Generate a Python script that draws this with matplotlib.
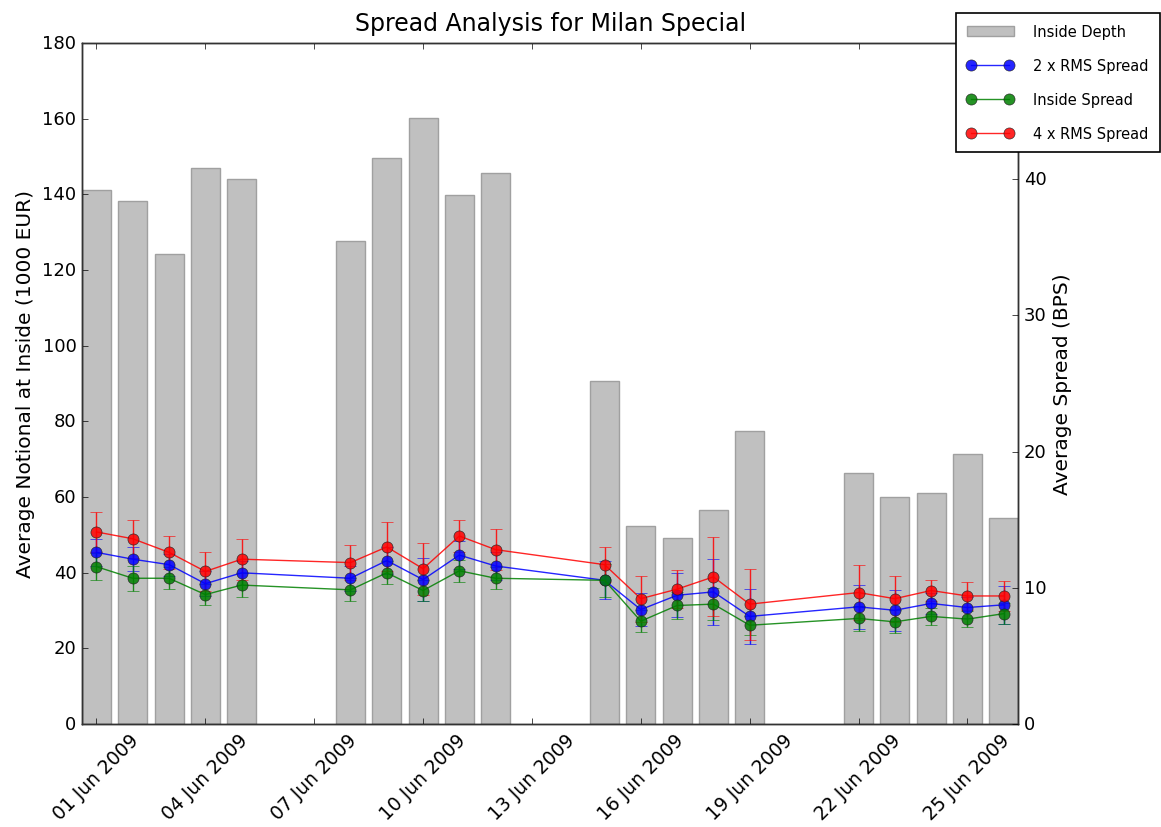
import matplotlib
matplotlib.use("Agg")
import matplotlib.pyplot as plt
import matplotlib.dates as mdates
import pandas as pd

# Datos
fechas = ["2009-06-01", "2009-06-02", "2009-06-03", "2009-06-04", "2009-06-05",
          "2009-06-08", "2009-06-09", "2009-06-10", "2009-06-11", "2009-06-12",
          "2009-06-15", "2009-06-16", "2009-06-17", "2009-06-18", "2009-06-19",
          "2009-06-22", "2009-06-23", "2009-06-24", "2009-06-25", "2009-06-26"]
inside_depth = [141.2, 138.3, 124.2, 147.0, 144.1, 127.7, 149.6, 160.2, 139.8, 145.6,
                90.7, 52.3, 49.2, 56.6, 77.5, 66.4, 60.0, 61.1, 71.4, 54.5]
rms2 = [12.6, 12.1, 11.7, 10.3, 11.1, 10.7, 12.0, 10.6, 12.4, 11.6,
        10.55, 8.4, 9.45, 9.7, 7.9, 8.6, 8.35, 8.85, 8.55, 8.75]
rms2_err = [1.0, 0.9, 0.8, 0.9, 0.9, 0.9, 1.0, 1.6, 1.0, 1.0,
            1.4, 1.2, 1.6, 2.4, 2.0, 1.6, 1.5, 0.8, 0.8, 1.4]
inside = [11.55, 10.7, 10.7, 9.5, 10.2, 9.85, 11.1, 9.8, 11.25, 10.7,
          10.55, 7.55, 8.7, 8.8, 7.25, 7.75, 7.5, 7.9, 7.7, 8.1]
inside_err = [1.0, 0.9, 0.8, 0.8, 0.9, 0.85, 0.85, 0.8, 0.8, 0.8,
              1.2, 0.8, 1.0, 1.2, 0.7, 0.9, 0.85, 0.6, 0.6, 0.75]
rms4 = [14.1, 13.6, 12.6, 11.2, 12.1, 11.85, 13.0, 11.4, 13.8, 12.8,
        11.7, 9.2, 9.9, 10.8, 8.8, 9.65, 9.2, 9.8, 9.4, 9.4]
rms4_err = [1.5, 1.4, 1.2, 1.4, 1.5, 1.3, 1.8, 1.9, 1.2, 1.5,
            1.3, 1.7, 1.4, 2.9, 2.6, 2.0, 1.7, 0.8, 1.0, 1.1]

fechas = pd.to_datetime(fechas)

plt.style.use('classic')
plt.rcParams['figure.facecolor'] = 'white'
plt.rcParams['savefig.facecolor'] = 'white'

fig = plt.figure(figsize=(11.61, 8.28), dpi=100)
ax1 = fig.add_axes([0.0706, 0.1244, 0.8064, 0.8225])
ax2 = ax1.twinx()

barras = ax1.bar(fechas, inside_depth, width=0.8, align='center',
                 color='#c0c0c0', edgecolor='#a0a0a0', linewidth=1,
                 label='Inside Depth')

l1 = ax2.errorbar(fechas, rms2, yerr=rms2_err, color='blue', marker='o',
                  markersize=8, markeredgecolor='#202020', capsize=4,
                  elinewidth=1, alpha=0.85, label='2 x RMS Spread')
l2 = ax2.errorbar(fechas, inside, yerr=inside_err, color='green', marker='o',
                  markersize=8, markeredgecolor='#202020', capsize=4,
                  elinewidth=1, alpha=0.85, label='Inside Spread')
l3 = ax2.errorbar(fechas, rms4, yerr=rms4_err, color='red', marker='o',
                  markersize=8, markeredgecolor='#202020', capsize=4,
                  elinewidth=1, alpha=0.85, label='4 x RMS Spread')

ax1.set_ylim(0, 180)
ax1.set_yticks(range(0, 181, 20))
ax2.set_ylim(0, 50)
# la etiqueta 50 queda tapada por la leyenda en el original
ax2.set_yticks(range(0, 41, 10))

ax1.set_xlim(fechas[0] - pd.Timedelta(hours=9.6), fechas[-1] + pd.Timedelta(hours=9.6))
ax1.xaxis.set_major_locator(mdates.DayLocator(interval=3))
ax1.xaxis.set_major_formatter(mdates.DateFormatter('%d %b %Y'))
for lab in ax1.get_xticklabels():
    lab.set_rotation(45)
    lab.set_ha('center')
ax1.tick_params(axis='x', labelsize=13.5)
ax1.tick_params(axis='y', labelsize=13)
ax2.tick_params(axis='y', labelsize=13)

for sp in ax2.spines.values():
    sp.set_color('#333333')

ax1.set_ylabel("Average Notional at Inside (1000 EUR)", fontsize=14.5)
ax2.set_ylabel("Average Spread (BPS)", fontsize=14.5)
ax1.set_title("Spread Analysis for Milan Special", fontsize=17, pad=9)

# en la leyenda solo la línea con marcadores, sin barras de error
leg = fig.legend([barras, l1.lines[0], l2.lines[0], l3.lines[0]],
                 ['Inside Depth', '2 x RMS Spread', 'Inside Spread', '4 x RMS Spread'],
                 loc='upper left', bbox_to_anchor=(0.8234, 0.983), fontsize=10.5,
                 numpoints=2, frameon=True, fancybox=False, borderpad=0.75,
                 borderaxespad=0, labelspacing=1.3, handlelength=3.2,
                 handletextpad=1.35)
leg.get_frame().set_linewidth(1.2)

fig.savefig("out.png", dpi=100)
